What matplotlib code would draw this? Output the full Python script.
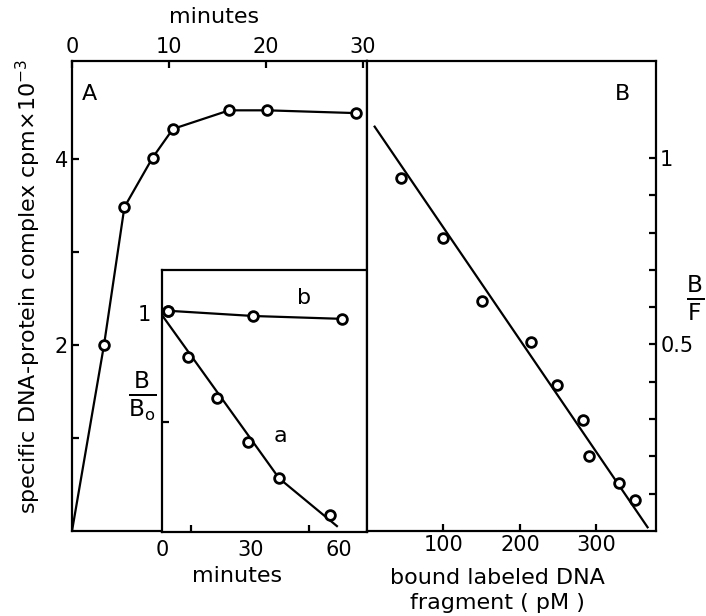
import matplotlib
matplotlib.use("Agg")
import matplotlib.pyplot as plt

plt.rcParams['font.family'] = ['DejaVu Sans']
plt.rcParams['mathtext.fontset'] = 'dejavusans'

# ---- Panel A: association time course ----
a_time = [3.3, 5.4, 8.3, 10.4, 16.2, 20.1, 29.3]
a_cpm = [2.0, 3.48, 4.01, 4.32, 4.52, 4.52, 4.49]
a_line_time = [0, 3.3, 5.4, 8.3, 10.4, 16.2, 20.1, 29.3]
a_line_cpm = [0, 2.0, 3.48, 4.01, 4.32, 4.52, 4.52, 4.49]

# ---- Inset: dissociation ----
inset_a_time = [2, 8.8, 18.6, 29, 39.7, 57]
inset_a_ratio = [1.01, 0.80, 0.61, 0.41, 0.245, 0.078]
inset_a_fit_time = [0, 39.7, 59.3]
inset_a_fit_ratio = [0.99, 0.245, 0.027]
inset_b_time = [2, 31, 61]
inset_b_ratio = [1.01, 0.986, 0.973]

# ---- Panel B: Scatchard plot ----
b_bound = [45, 99, 150, 215, 248, 282, 291, 330, 350]
b_ratio = [0.946, 0.785, 0.616, 0.508, 0.392, 0.298, 0.20, 0.129, 0.083]
b_fit_bound = [10, 367]
b_fit_ratio = [1.084, 0.01]

W, H = 706, 616
fig = plt.figure(figsize=(W / 100, H / 100), dpi=100)

def fx(px):
    return px / W

def fy(py):
    return 1 - py / H

FS = 16
TS = 15
LW = 1.6
mk = dict(marker='o', markersize=7, markerfacecolor='white',
          markeredgecolor='black', markeredgewidth=2.0)

# Panel A axes
axA = fig.add_axes([fx(72), fy(531), fx(367) - fx(72), fy(61) - fy(531)])
axA.plot(a_line_time, a_line_cpm, color='black', lw=LW, zorder=2)
axA.plot(a_time, a_cpm, linestyle='none', zorder=3, **mk)
axA.set_xlim(0, 30.4)
axA.set_ylim(0, 5.05)
axA.xaxis.tick_top()
axA.set_xticks([0, 10, 20, 30])
axA.set_xticklabels(['0', '10', '20', '30'])
axA.set_yticks([1, 2, 3, 4])
axA.set_yticklabels(['', '2', '', '4'])
axA.tick_params(direction='in', length=5, width=1.6, labelsize=TS, pad=3)
axA.tick_params(axis='x', which='both', top=True, bottom=False)
for s in axA.spines.values():
    s.set_linewidth(LW)
axA.text(0.06, 0.93, 'A', transform=axA.transAxes, fontsize=FS, va='center', ha='center')

fig.text(fx(214), fy(17), 'minutes', fontsize=FS, ha='center', va='center')
fig.text(fx(28), fy(286), 'specific DNA-protein complex cpm\u00d710$^{-3}$',
         fontsize=FS, rotation=90, ha='center', va='center')

# Inset axes
axI = fig.add_axes([fx(162), fy(532), fx(367) - fx(162), fy(270) - fy(532)])
axI.plot(inset_a_fit_time, inset_a_fit_ratio, color='black', lw=LW, zorder=2)
axI.plot(inset_a_time, inset_a_ratio, linestyle='none', zorder=3, **mk)
axI.plot(inset_b_time, inset_b_ratio, color='black', lw=LW, zorder=2, **mk)
axI.set_xlim(0, 69.5)
axI.set_ylim(0, 1.196)
axI.set_xticks([0, 30, 60])
axI.set_xticks([10, 30, 50], minor=True)
axI.tick_params(axis='x', which='major', length=0, labelsize=TS, pad=6)
axI.tick_params(axis='x', which='minor', direction='in', length=5, width=1.6)
axI.set_yticks([0.5, 1.0])
axI.set_yticklabels(['', '1'])
axI.tick_params(axis='y', direction='in', length=5, width=1.6, labelsize=TS, pad=8)
for s in axI.spines.values():
    s.set_linewidth(LW)
axI.text(40, 0.44, 'a', fontsize=FS, ha='center', va='center')
axI.text(48, 1.07, 'b', fontsize=FS, ha='center', va='center')
fig.text(fx(142), fy(396), r'$\frac{\mathrm{B}}{\mathrm{B_o}}$', fontsize=FS + 8,
         ha='center', va='center')
fig.text(fx(237), fy(576), 'minutes', fontsize=FS, ha='center', va='center')

# Panel B axes
axB = fig.add_axes([fx(367), fy(531), fx(656) - fx(367), fy(61) - fy(531)])
axB.plot(b_fit_bound, b_fit_ratio, color='black', lw=LW, zorder=2)
axB.plot(b_bound, b_ratio, linestyle='none', zorder=3, **mk)
axB.set_xlim(0, 378)
axB.set_ylim(0, 1.26)
axB.set_xticks([100, 200, 300])
axB.yaxis.tick_right()
yt = [0.1, 0.2, 0.3, 0.4, 0.5, 0.6, 0.7, 0.8, 0.9, 1.0]
axB.set_yticks(yt)
axB.set_yticklabels(['0.5' if abs(v - 0.5) < 1e-9 else ('1' if abs(v - 1) < 1e-9 else '') for v in yt])
axB.tick_params(direction='in', length=5, width=1.6, labelsize=TS, pad=3)
for s in axB.spines.values():
    s.set_linewidth(LW)
axB.text(0.885, 0.93, 'B', transform=axB.transAxes, fontsize=FS, va='center', ha='center')
fig.text(fx(695), fy(298), r'$\frac{\mathrm{B}}{\mathrm{F}}$', fontsize=FS + 8,
         ha='center', va='center')
fig.text(fx(497), fy(578), 'bound labeled DNA', fontsize=FS, ha='center', va='center')
fig.text(fx(497), fy(603), 'fragment ( pM )', fontsize=FS, ha='center', va='center')

fig.savefig('out.png', dpi=100)
